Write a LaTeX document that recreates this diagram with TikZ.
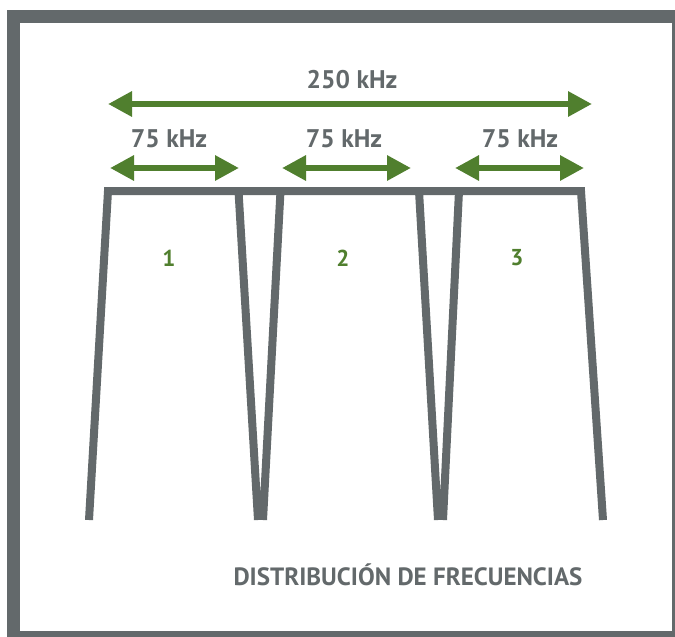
\documentclass[tikz,border=0pt]{standalone}
\usepackage{fontspec}
\setmainfont{PT Sans}
\usetikzlibrary{arrows.meta}
\definecolor{framegray}{HTML}{63696B}
\definecolor{bandgreen}{HTML}{507F2E}

\begin{document}
\begin{tikzpicture}[x=1pt,y=-1pt,
    band/.style={line width=8pt,draw=framegray,line join=miter},
    span/.style={line width=6pt,draw=bandgreen,{Triangle[length=24pt,width=24pt]}-{Triangle[length=24pt,width=24pt]}},
    lbl/.style={text=framegray,font=\bfseries\fontsize{25.5}{25.5}\selectfont},
    num/.style={text=bandgreen,font=\bfseries\fontsize{23}{23}\selectfont}]
    \useasboundingbox (0,0) rectangle (675,637);
    \fill[framegray] (7,10) rectangle (675,637);
    \fill[white] (20,23) rectangle (672,631);
    % canales
    \draw[band] (89,520) -- (108,191) -- (581,191) -- (603,520);
    \draw[band] (238.5,191) -- (258,520) (263,520) -- (280.5,191);
    \draw[band] (419,191) -- (438,520) (443,520) -- (459,191);
    % anchos de banda
    \coordinate (totL) at (108,104);
    \coordinate (totR) at (592,104);
    \coordinate (c1L) at (110,168);
    \coordinate (c1R) at (239,168);
    \coordinate (c2L) at (282,168);
    \coordinate (c2R) at (411,168);
    \coordinate (c3L) at (455,168);
    \coordinate (c3R) at (584,168);
    \draw[span] (totL) -- (totR);
    \foreach \c in {c1,c2,c3}
        \draw[span] (\c L) -- (\c R);
    \node[lbl] (tot) at (352,80) {250 kHz};
    \node[lbl] (w1) at (169,139) {75 kHz};
    \node[lbl] (w2) at (344,139) {75 kHz};
    \node[lbl] (w3) at (520,139) {75 kHz};
    \node[num] (n1) at (169,258) {1};
    \node[num] (n2) at (343,258) {2};
    \node[num] (n3) at (517,258) {3};
    \node[lbl,font=\bfseries\fontsize{25}{25}\selectfont] (title) at (408,575) {DISTRIBUCIÓN DE FRECUENCIAS};
\end{tikzpicture}
\end{document}
